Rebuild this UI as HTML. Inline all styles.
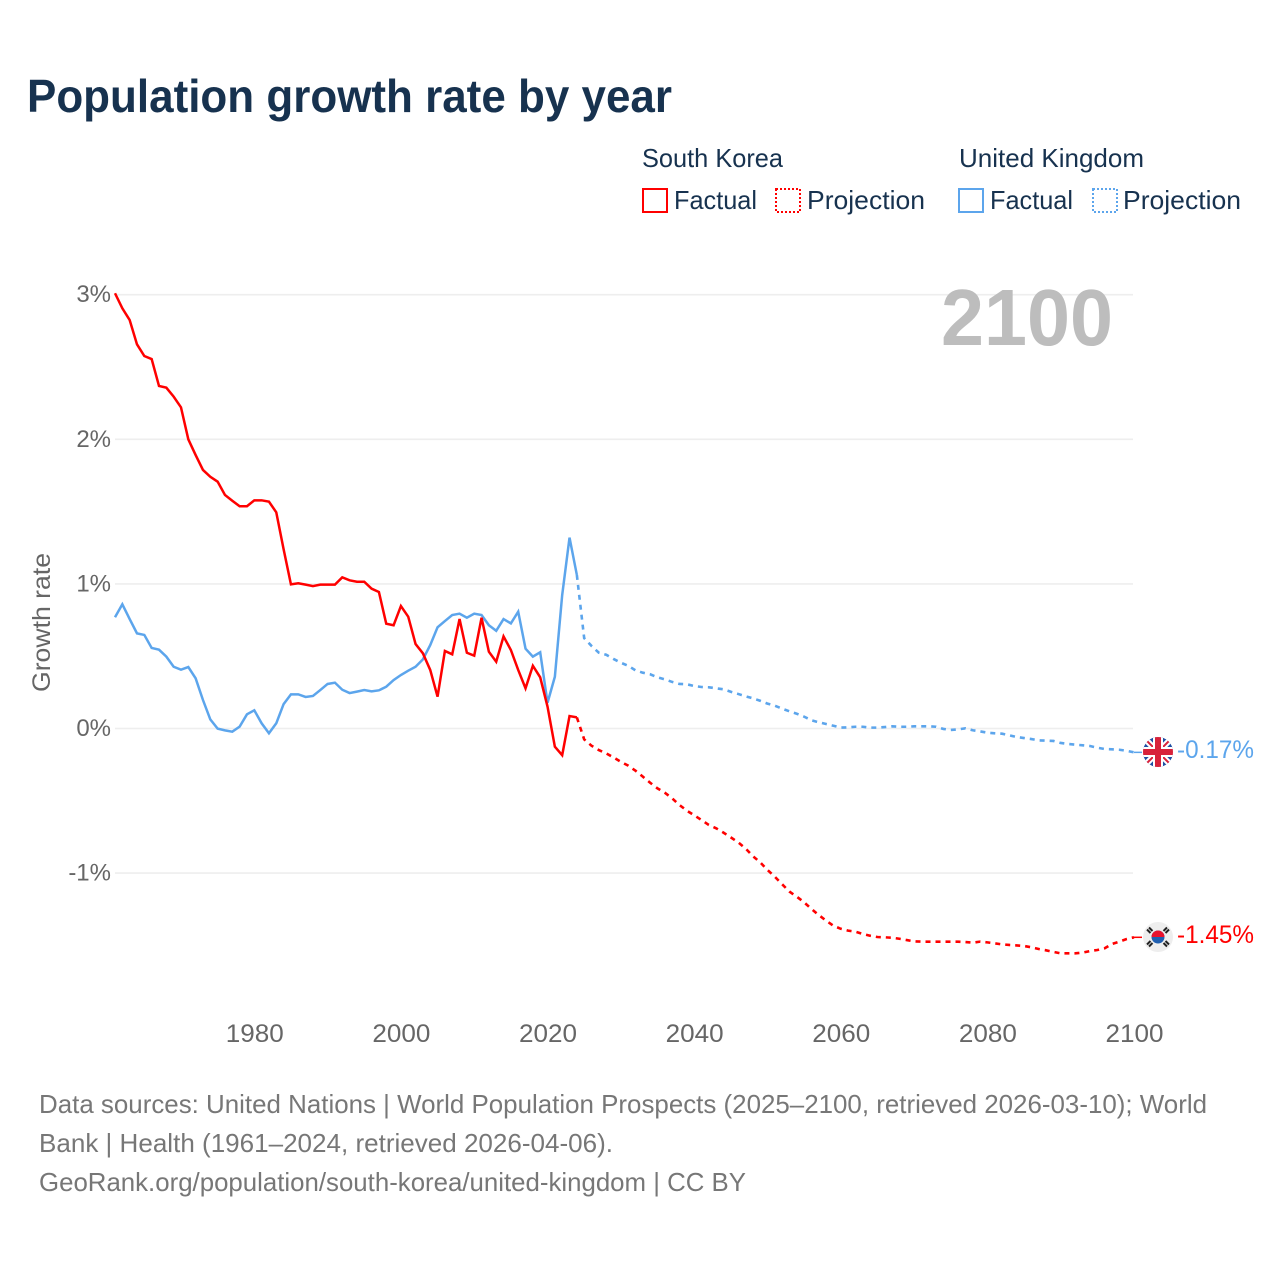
<!DOCTYPE html>
<html lang="en">
<head>
<meta charset="utf-8">
<title>Population growth rate by year</title>
<style>
html,body{margin:0;padding:0;background:#fff;width:1280px;height:1280px;overflow:hidden}
svg{display:block}
text{font-family:"Liberation Sans",sans-serif}
</style>
</head>
<body>
<svg id="chart" xmlns="http://www.w3.org/2000/svg" width="1280" height="1280" viewBox="0 0 1280 1280">
  <defs>
    <clipPath id="flag-uk-clip"><circle cx="1158" cy="752" r="15"/></clipPath>
    <clipPath id="flag-kr-clip"><circle cx="1158" cy="937" r="15"/></clipPath>
  </defs>
  <rect width="1280" height="1280" fill="#ffffff"/>
  <text x="27" y="112" font-size="46" font-weight="700" fill="#17324f" textLength="645" lengthAdjust="spacingAndGlyphs">Population growth rate by year</text>

  <g font-size="26" fill="#17324f">
    <text x="642" y="167" textLength="141" lengthAdjust="spacingAndGlyphs">South Korea</text>
    <text x="959" y="167" textLength="185" lengthAdjust="spacingAndGlyphs">United Kingdom</text>
    <rect x="643" y="189" width="24" height="23" fill="none" stroke="#ff0000" stroke-width="2"/>
    <text x="674" y="209" textLength="83" lengthAdjust="spacingAndGlyphs">Factual</text>
    <rect x="776" y="189" width="24" height="23" fill="none" stroke="#ff0000" stroke-width="2" stroke-dasharray="2 2"/>
    <text x="807" y="209" textLength="118" lengthAdjust="spacingAndGlyphs">Projection</text>
    <rect x="959" y="189" width="24" height="23" fill="none" stroke="#5ca5ec" stroke-width="2"/>
    <text x="990" y="209" textLength="83" lengthAdjust="spacingAndGlyphs">Factual</text>
    <rect x="1093" y="189" width="24" height="23" fill="none" stroke="#5ca5ec" stroke-width="2" stroke-dasharray="2 2"/>
    <text x="1123" y="209" textLength="118" lengthAdjust="spacingAndGlyphs">Projection</text>
  </g>

  <g id="grid"></g>
  <g id="yticks"></g>
  <g id="xticks"></g>

  <text x="1113" y="345" text-anchor="end" font-size="80" font-weight="700" fill="#bdbdbd" textLength="172" lengthAdjust="spacingAndGlyphs">2100</text>
  <text transform="translate(50,692) rotate(-90)" font-size="25" fill="#666666" textLength="139" lengthAdjust="spacingAndGlyphs">Growth rate</text>

  <g id="series"></g>

  <g clip-path="url(#flag-uk-clip)">
    <rect x="1143" y="737" width="30" height="30" fill="#1f4fa3"/>
    <path d="M1143 737L1173 767M1173 737L1143 767" stroke="#ffffff" stroke-width="6"/>
    <path d="M1143 737L1173 767M1173 737L1143 767" stroke="#d8213a" stroke-width="2"/>
    <path d="M1158 737V767M1143 752H1173" stroke="#ffffff" stroke-width="10"/>
    <path d="M1158 737V767M1143 752H1173" stroke="#d8213a" stroke-width="6"/>
  </g>
  <g clip-path="url(#flag-kr-clip)">
    <rect x="1143" y="922" width="30" height="30" fill="#eeeeee"/>
    <circle cx="1158" cy="937" r="6.500" fill="#1f5fb0"/>
    <path d="M1151.500 937A6.500 6.500 0 0 1 1164.500 937Z" fill="#e8112d"/>
    <path d="M1149 927.500L1152.500 931M1147 929.500L1150.500 933M1167 927.500L1163.500 931M1169 929.500L1165.500 933M1149 946.500L1152.500 943M1147 944.500L1150.500 941M1167 946.500L1163.500 943M1169 944.500L1165.500 941" stroke="#222222" stroke-width="2"/>
  </g>

  <text id="label-uk" x="1177" y="758" font-size="25" fill="#5ca5ec" textLength="77" lengthAdjust="spacingAndGlyphs"></text>
  <text id="label-kr" x="1177" y="943" font-size="25" fill="#ff0000" textLength="77" lengthAdjust="spacingAndGlyphs"></text>

  <g font-size="26" fill="#777777">
    <text x="39" y="1113" textLength="1168" lengthAdjust="spacingAndGlyphs">Data sources: United Nations | World Population Prospects (2025–2100, retrieved 2026-03-10); World</text>
    <text x="39" y="1152" textLength="574" lengthAdjust="spacingAndGlyphs">Bank | Health (1961–2024, retrieved 2026-04-06).</text>
    <text x="39" y="1191" textLength="707" lengthAdjust="spacingAndGlyphs">GeoRank.org/population/south-korea/united-kingdom | CC BY</text>
  </g>
</svg>
<script>
const factualStartYear = 1961;
const projectionStartYear = 2024;
const xTickYears = [1980, 2000, 2020, 2040, 2060, 2080, 2100];
const yTickValues = [3, 2, 1, 0, -1];
const endLabelUK = "-0.17%";
const endLabelKR = "-1.45%";

const koreaFactual = [
  3.01,2.906,2.825,2.657,2.576,2.555,2.369,2.357,2.295,2.221,
  2.0,1.891,1.788,1.741,1.707,1.615,1.575,1.537,1.537,1.578,
  1.578,1.569,1.495,1.24,0.997,1.004,0.995,0.985,0.995,0.995,
  0.995,1.045,1.025,1.015,1.015,0.967,0.944,0.725,0.714,0.847,
  0.773,0.584,0.52,0.405,0.22,0.536,0.513,0.757,0.524,0.504,
  0.766,0.531,0.462,0.637,0.543,0.405,0.278,0.434,0.354,0.151,
  -0.126,-0.185,0.086,0.077
];
const ukFactual = [
  0.769,0.859,0.757,0.658,0.647,0.557,0.545,0.497,0.427,0.407,
  0.425,0.347,0.197,0.063,-0.001,-0.013,-0.022,0.013,0.098,0.126,
  0.036,-0.033,0.036,0.169,0.236,0.236,0.218,0.225,0.266,0.308,
  0.317,0.268,0.245,0.255,0.266,0.257,0.264,0.289,0.335,0.37,
  0.4,0.427,0.478,0.577,0.7,0.743,0.785,0.794,0.766,0.794,
  0.785,0.714,0.676,0.757,0.727,0.808,0.552,0.497,0.527,0.178,
  0.358,0.923,1.32,1.062
];
const koreaProjection = [
  0.077,-0.075,-0.119,-0.149,-0.172,-0.2,-0.23,-0.257,-0.292,-0.333,
  -0.375,-0.414,-0.444,-0.483,-0.529,-0.568,-0.6,-0.633,-0.667,-0.69,
  -0.72,-0.753,-0.787,-0.829,-0.882,-0.925,-0.978,-1.025,-1.077,-1.128,
  -1.163,-1.202,-1.248,-1.29,-1.329,-1.364,-1.385,-1.398,-1.405,-1.421,
  -1.433,-1.442,-1.444,-1.447,-1.454,-1.463,-1.472,-1.474,-1.474,-1.474,
  -1.474,-1.474,-1.474,-1.477,-1.481,-1.474,-1.479,-1.486,-1.493,-1.497,
  -1.5,-1.504,-1.513,-1.525,-1.534,-1.545,-1.555,-1.555,-1.555,-1.55,
  -1.539,-1.532,-1.52,-1.49,-1.474,-1.456,-1.444
];
const ukProjection = [
  1.062,0.625,0.571,0.524,0.51,0.481,0.455,0.434,0.402,0.386,
  0.375,0.354,0.34,0.322,0.308,0.306,0.294,0.287,0.285,0.278,
  0.271,0.254,0.239,0.223,0.209,0.192,0.172,0.158,0.137,0.119,
  0.102,0.082,0.057,0.043,0.031,0.019,0.006,0.008,0.012,0.012,
  0.006,0.006,0.01,0.015,0.012,0.012,0.015,0.015,0.015,0.012,
  -0.003,-0.01,-0.006,0.001,-0.012,-0.02,-0.029,-0.033,-0.036,-0.047,
  -0.059,-0.066,-0.073,-0.082,-0.084,-0.086,-0.1,-0.107,-0.112,-0.116,
  -0.121,-0.133,-0.142,-0.144,-0.147,-0.154,-0.165
];

const NS = "http://www.w3.org/2000/svg";
function xScale(year) { return 115 + (year - 1961) * (1134 - 115) / 139; }
function yScale(v) { return 728.5 - v * 144.6; }
function svgEl(tag, parent) {
  const el = document.createElementNS(NS, tag);
  parent.appendChild(el);
  return el;
}

const gridGroup = document.getElementById("grid");
const yTickGroup = document.getElementById("yticks");
yTickValues.forEach(function (v) {
  const line = svgEl("line", gridGroup);
  
  
  line.setAttribute("x1", 115);
  line.setAttribute("x2", 1133);
  line.setAttribute("y1", yScale(v));
  line.setAttribute("y2", yScale(v));
  line.setAttribute("stroke", "#eeeeee");
  line.setAttribute("stroke-width", 1.6);

  const label = svgEl("text", yTickGroup);
  
  
  label.setAttribute("x", 111);
  label.setAttribute("y", yScale(v) + 7.5);
  label.setAttribute("text-anchor", "end");
  label.setAttribute("font-size", 24);
  label.setAttribute("fill", "#666666");
  label.textContent = v + "%";
});

const xTickGroup = document.getElementById("xticks");
xTickYears.forEach(function (year) {
  const label = svgEl("text", xTickGroup);
  
  
  label.setAttribute("x", xScale(year) + 0.5);
  label.setAttribute("y", 1042);
  label.setAttribute("text-anchor", "middle");
  label.setAttribute("font-size", 25);
  label.setAttribute("fill", "#666666");
  label.setAttribute("textLength", 58);
  label.setAttribute("lengthAdjust", "spacingAndGlyphs");
  label.textContent = year;
});

function linePath(values, startYear) {
  return values.map(function (v, i) {
    return (i ? "L" : "M") + xScale(startYear + i).toFixed(2) + " " + yScale(v).toFixed(2);
  }).join("");
}
const seriesGroup = document.getElementById("series");

const koreaProjectionLine = svgEl("path", seriesGroup);


koreaProjectionLine.setAttribute("d", linePath(koreaProjection, projectionStartYear));
koreaProjectionLine.setAttribute("fill", "none");
koreaProjectionLine.setAttribute("stroke", "#ff0000");
koreaProjectionLine.setAttribute("stroke-width", 2.6);
koreaProjectionLine.setAttribute("stroke-dasharray", "5 5");

const ukProjectionLine = svgEl("path", seriesGroup);


ukProjectionLine.setAttribute("d", linePath(ukProjection, projectionStartYear));
ukProjectionLine.setAttribute("fill", "none");
ukProjectionLine.setAttribute("stroke", "#5ca5ec");
ukProjectionLine.setAttribute("stroke-width", 2.6);
ukProjectionLine.setAttribute("stroke-dasharray", "5 5");

const ukFactualLine = svgEl("path", seriesGroup);


ukFactualLine.setAttribute("d", linePath(ukFactual, factualStartYear));
ukFactualLine.setAttribute("fill", "none");
ukFactualLine.setAttribute("stroke", "#5ca5ec");
ukFactualLine.setAttribute("stroke-width", 2.5);

const koreaFactualLine = svgEl("path", seriesGroup);


koreaFactualLine.setAttribute("d", linePath(koreaFactual, factualStartYear));
koreaFactualLine.setAttribute("fill", "none");
koreaFactualLine.setAttribute("stroke", "#ff0000");
koreaFactualLine.setAttribute("stroke-width", 2.5);

const lastYear = projectionStartYear + koreaProjection.length - 1;

const koreaConnector = svgEl("line", seriesGroup);


koreaConnector.setAttribute("x1", xScale(lastYear));
koreaConnector.setAttribute("x2", xScale(lastYear) + 8);
koreaConnector.setAttribute("y1", yScale(koreaProjection[koreaProjection.length - 1]));
koreaConnector.setAttribute("y2", yScale(koreaProjection[koreaProjection.length - 1]));
koreaConnector.setAttribute("stroke", "#ff0000");
koreaConnector.setAttribute("stroke-width", 1.5);

const ukConnector = svgEl("line", seriesGroup);


ukConnector.setAttribute("x1", xScale(lastYear));
ukConnector.setAttribute("x2", xScale(lastYear) + 8);
ukConnector.setAttribute("y1", yScale(ukProjection[ukProjection.length - 1]));
ukConnector.setAttribute("y2", yScale(ukProjection[ukProjection.length - 1]));
ukConnector.setAttribute("stroke", "#5ca5ec");
ukConnector.setAttribute("stroke-width", 1.5);

document.getElementById("label-uk").textContent = endLabelUK;
document.getElementById("label-kr").textContent = endLabelKR;
</script>
</body>
</html>
